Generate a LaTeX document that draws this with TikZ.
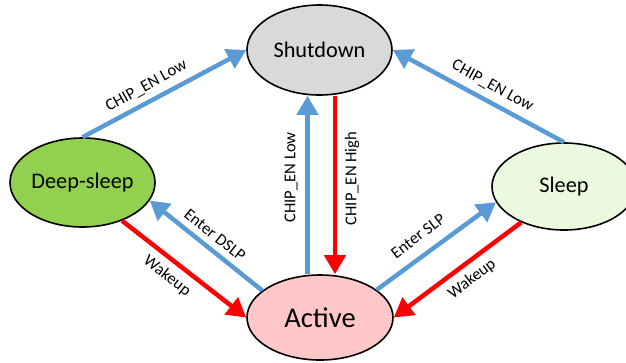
\documentclass[tikz,border=0pt]{standalone}
\usepackage{fontspec}
\setmainfont{Carlito}
\usetikzlibrary{shapes.geometric,arrows.meta,calc}
\definecolor{bluec}{HTML}{5B9BD5}
\definecolor{redc}{HTML}{FF0000}
\definecolor{sdfill}{HTML}{D9D9D9}
\definecolor{dsfill}{HTML}{92D050}
\definecolor{slfill}{HTML}{EBFADF}
\definecolor{actfill}{HTML}{FFC7C7}
\begin{document}
\begin{tikzpicture}[x=1pt,y=-1pt,
  state/.style={ellipse, draw=black, line width=1.6pt, minimum width=145pt,
    minimum height=89pt, inner sep=0pt, font=\fontsize{22.3}{26}\selectfont},
  blu/.style={draw=bluec, line width=4.5pt, -{Triangle[length=19pt,width=21pt]}},
  rd/.style={draw=redc, line width=4.5pt, -{Triangle[length=19pt,width=21pt]}},
  lbl/.style={font=\fontsize{16.6}{19}\selectfont, inner sep=0pt}]
\useasboundingbox (0,0) rectangle (626,362);
\clip (0,0) rectangle (626,362);
\node[state, fill=sdfill, minimum height=90pt] (sd) at (319.5,50) {Shutdown};
\node[state, fill=dsfill] (ds) at (82.5,182.5) {Deep-sleep};
\node[state, fill=slfill, minimum width=144pt, minimum height=87pt] (sl) at (564,186.5) {Sleep};
\node[state, fill=actfill, minimum width=146pt, minimum height=85pt,
  font=\fontsize{28.6}{32}\selectfont] (act) at (320,317.5) {Active};

\draw[blu] (ds.north) -- (sd.west);
\draw[blu] (sl.north) -- (sd.east);
\draw[blu] ($(act.north)+(-12.5,0)$) -- ($(sd.south)+(-12,0)$);
\draw[rd] ($(sd.south)+(15.5,0)$) -- ($(act.north)+(15,0)$);
\draw[blu] (act.155) -- (ds.-15);
\draw[rd] (ds.-44) -- (act.west);
\draw[blu] (act.26) -- (sl.193);
\draw[rd] (sl.220) -- (act.east);

\node[lbl, rotate=29] (l1) at (146.5,86) {CHIP\_EN Low};
\node[lbl, rotate=-29] (l2) at (492.5,86) {CHIP\_EN Low};
\node[lbl, rotate=90] (l3) at (291,177.5) {CHIP\_EN Low};
\node[lbl, rotate=90] (l4) at (352,178.5) {CHIP\_EN High};
\node[lbl, rotate=-38.5] (l5) at (215,235) {Enter DSLP};
\node[lbl, rotate=-38] (l6) at (167,276) {Wakeup};
\node[lbl, rotate=37] (l7) at (418,236) {Enter SLP};
\node[lbl, rotate=37] (l8) at (472,279) {Wakeup};
\end{tikzpicture}
\end{document}
